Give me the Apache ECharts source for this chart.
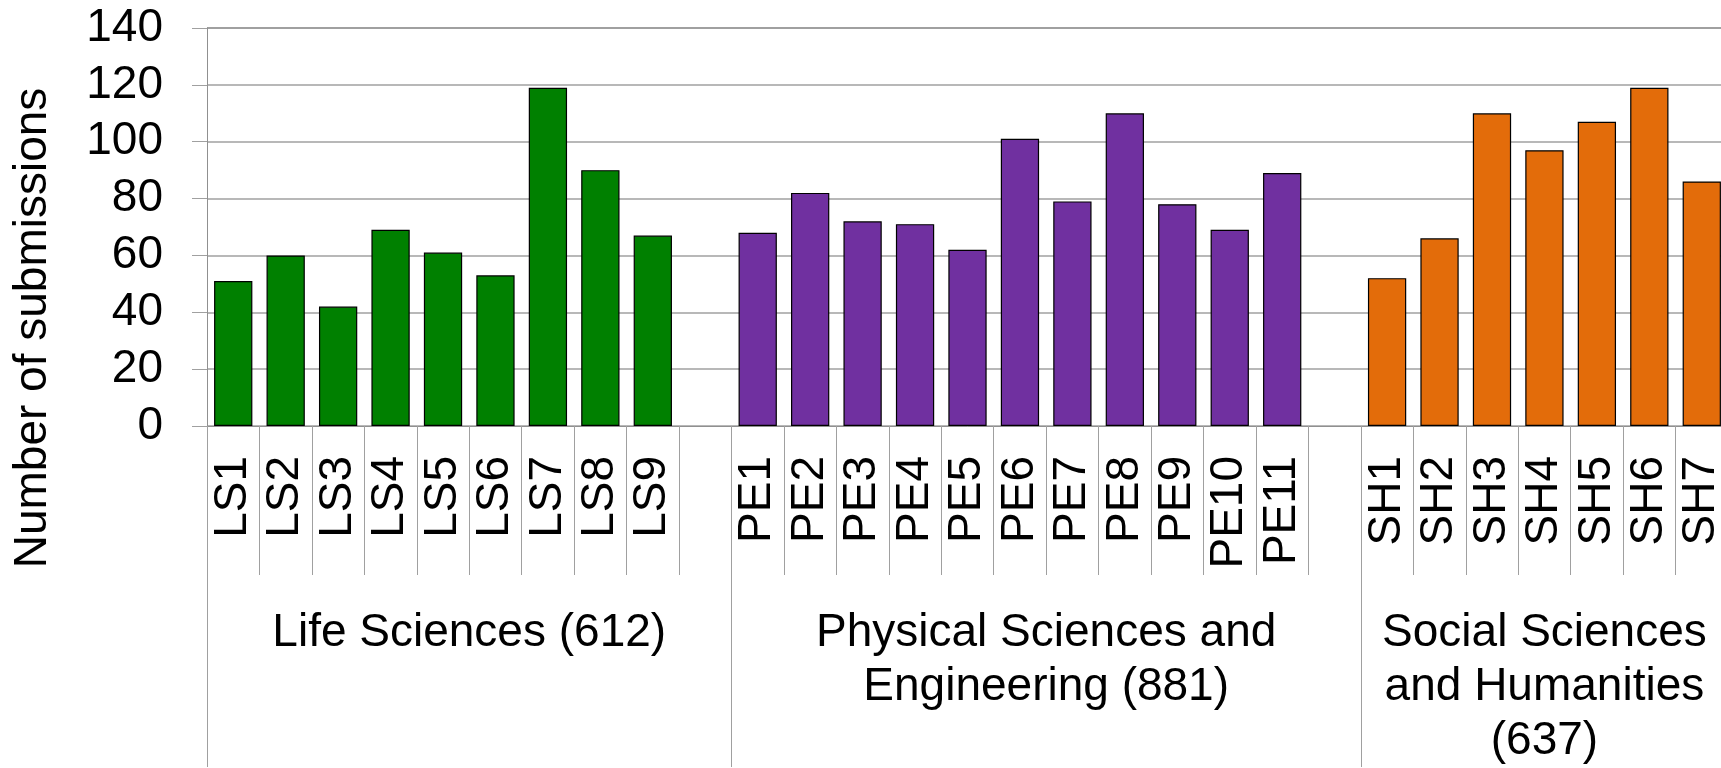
<!DOCTYPE html>
<html>
<head>
<meta charset="utf-8">
<title>Number of submissions per panel</title>
<script src="https://cdn.jsdelivr.net/npm/echarts@6/dist/echarts.min.js"></script>
<style>
    html, body { margin: 0; padding: 0; background: #fff; overflow: hidden; }
    /* a bit wider than the window: the last panel runs past the right edge */
    #bar-dom { width: 1730px; height: 768px; }
</style>
</head>
<body>
<div id="bar-dom"></div>
<script>
// panels and submissions
const lsLabels = ['LS1', 'LS2', 'LS3', 'LS4', 'LS5', 'LS6', 'LS7', 'LS8', 'LS9'];
const lsValues = [51, 60, 42, 69, 61, 53, 119, 90, 67];
const peLabels = ['PE1', 'PE2', 'PE3', 'PE4', 'PE5', 'PE6', 'PE7', 'PE8', 'PE9', 'PE10', 'PE11'];
const peValues = [68, 82, 72, 71, 62, 101, 79, 110, 78, 69, 89];
const shLabels = ['SH1', 'SH2', 'SH3', 'SH4', 'SH5', 'SH6', 'SH7'];
const shValues = [52, 66, 110, 97, 107, 119, 86];
const groupNames = ['Life Sciences (612)', 'Physical Sciences and\nEngineering (881)', 'Social Sciences\nand Humanities\n(637)'];
const groupColors = ['#008000', '#7030a0', '#e36c0a'];
const yTicks = [0, 20, 40, 60, 80, 100, 120, 140];

const font = "'Liberation Sans', Arial, sans-serif";
const groups = [
    { labels: lsLabels, values: lsValues },
    { labels: peLabels, values: peValues },
    { labels: shLabels, values: shValues }
];

// one empty slot after each group except the last
let categories = [];
let barData = [];
let bounds = [0];
let centers = [];
groups.forEach((g, gi) => {
    const start = categories.length;
    g.labels.forEach((lab, i) => {
        categories.push(lab);
        barData.push({ value: g.values[i], itemStyle: { color: groupColors[gi] } });
    });
    if (gi < groups.length - 1) {
        categories.push('');
        barData.push('-');
    }
    bounds.push(categories.length);
    centers.push((start + categories.length) / 2);
});

const chart = echarts.init(document.getElementById('bar-dom'));

const option = {
    backgroundColor: '#fff',
    animation: false,
    textStyle: { fontFamily: font },
    grid: { left: 207, top: 28, width: 1521, height: 399, containLabel: false },
    xAxis: [
        {
            type: 'category',
            data: categories,
            position: 'bottom',
            axisLine: { show: true, lineStyle: { color: '#909090', width: 1 } },
            axisTick: { show: true, interval: 0, length: 149, lineStyle: { color: '#a0a0a0', width: 1 } },
            axisLabel: {
                interval: 0,
                rotate: 90,
                margin: 30,
                color: '#000',
                fontSize: 46,
                fontFamily: font
            },
            splitLine: { show: false }
        },
        {
            type: 'value',
            position: 'bottom',
            min: 0,
            max: categories.length,
            axisLine: { show: false },
            axisTick: {
                show: true,
                customValues: bounds,
                length: 341,
                lineStyle: { color: '#a0a0a0', width: 1 }
            },
            axisLabel: {
                show: true,
                customValues: centers,
                formatter: function (val) {
                    const idx = centers.indexOf(val);
                    return idx >= 0 ? groupNames[idx] : '';
                },
                margin: 180,
                color: '#000',
                fontSize: 46,
                lineHeight: 54,
                fontFamily: font,
                align: 'center'
            },
            splitLine: { show: false }
        }
    ],
    yAxis: {
        type: 'value',
        min: yTicks[0],
        max: yTicks[yTicks.length - 1],
        interval: 20,
        axisLine: { show: true, lineStyle: { color: '#909090', width: 1 } },
        axisTick: { show: true, inside: false, length: 15, lineStyle: { color: '#a0a0a0', width: 1 } },
        axisLabel: { margin: 44, color: '#000', fontSize: 46, fontFamily: font },
        splitLine: {
            show: true,
            lineStyle: {
                color: ['#a0a0a0', '#a0a0a0', '#a0a0a0', '#a0a0a0', '#a0a0a0', '#a0a0a0', '#a0a0a0', '#808080'],
                width: 1.5
            }
        }
    },
    graphic: [
        {
            type: 'text',
            x: 33,
            y: 328,
            rotation: Math.PI / 2,
            style: {
                text: 'Number of submissions',
                fill: '#000',
                font: '46px ' + font,
                align: 'center',
                verticalAlign: 'middle'
            }
        }
    ],
    series: [
        {
            name: 'Submissions',
            type: 'bar',
            xAxisIndex: 0,
            yAxisIndex: 0,
            barCategoryGap: '27%',
            itemStyle: { borderColor: '#000', borderWidth: 1.2 },
            data: barData
        }
    ]
};

chart.setOption(option);
</script>
</body>
</html>
